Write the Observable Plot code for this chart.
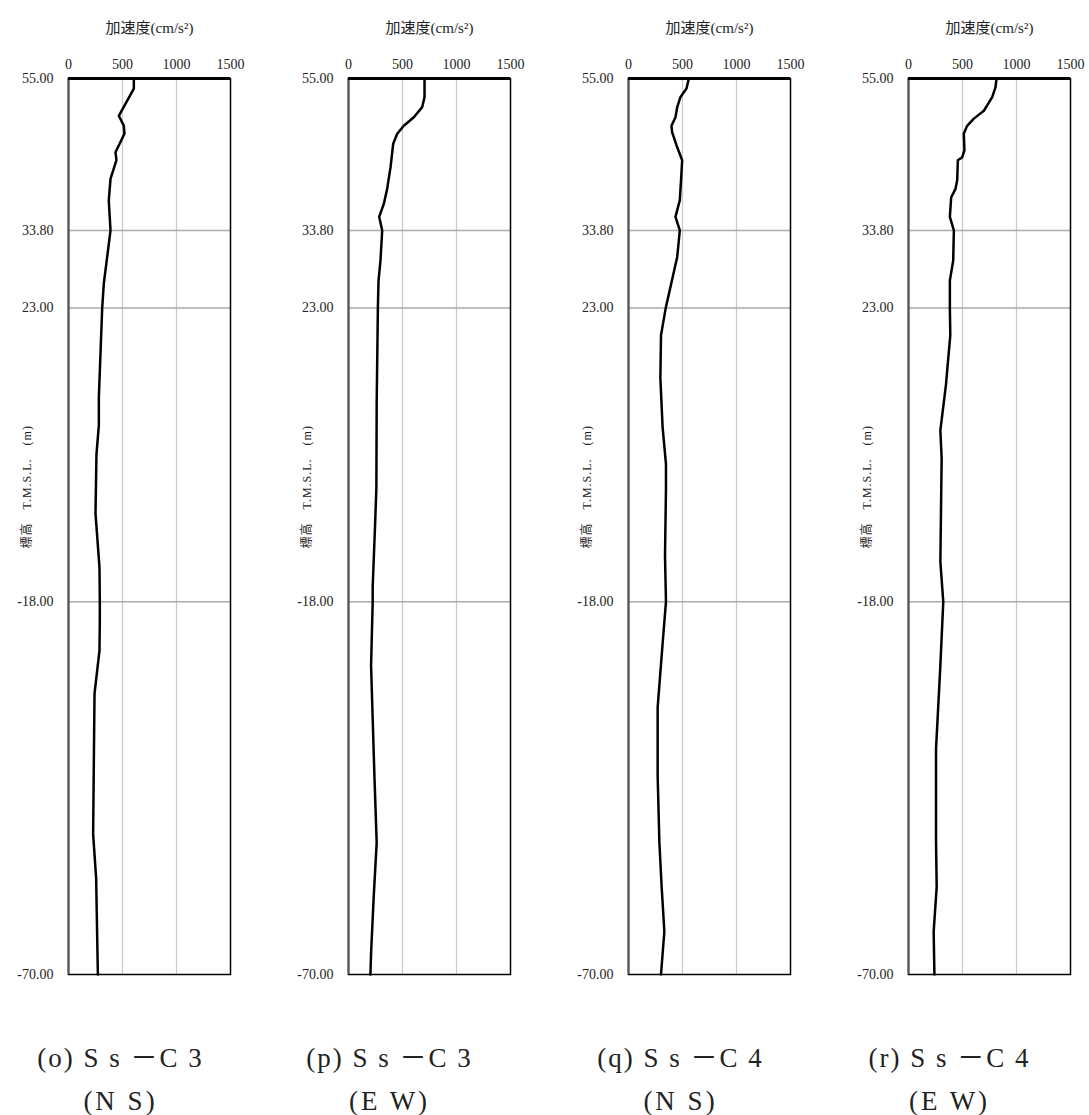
<!DOCTYPE html>
<html><head><meta charset="utf-8">
<script src="https://cdn.jsdelivr.net/npm/d3@7"></script>
<script src="https://cdn.jsdelivr.net/npm/@observablehq/plot@0.6"></script>
<style>
body{margin:0;background:#fff;overflow:hidden}
#wrap{position:relative;width:1089px;height:1115px}
.panel{position:absolute;top:0}
</style></head><body><div id="wrap"></div>
<script>
// ---- data ----
const xTicks = [0, 500, 1000, 1500];
const yTicks = [55, 33.8, 23, -18, -70];
const gridX = [500, 1000];
const gridY = [33.8, 23, -18];
const xLabel = "加速度(cm/s²)";
const yLabel = "標高　T.M.S.L.　(m)";
const captionTop = ["(o) S s －C 3", "(p) S s －C 3", "(q) S s －C 4", "(r) S s －C 4"];
const captionBottom = ["(N S)", "(E W)", "(N S)", "(E W)"];

// [elevation (m), acceleration (cm/s²)]
const ssC3NS = [[55,605],[53.6,605],[49.8,466],[48.4,512],[47.3,518],[44.7,435],[43.6,444],[41.0,389],[38.0,373],[33.8,389],[26.4,327],[23,312],[10.5,281],[6.6,281],[2.6,259],[-5.7,250],[-13.2,287],[-18,290],[-20.6,290],[-24.8,287],[-30.8,241],[-50.4,228],[-56.6,256],[-70,272]];
const ssC3EW = [[55,704],[52.4,704],[51.0,682],[49.6,605],[48.4,512],[47.3,451],[45.9,414],[42.6,389],[39.6,358],[37.5,327],[35.7,284],[33.8,312],[29.6,296],[26.8,278],[23,272],[9.8,261],[-2.2,258],[-7.3,246],[-15.9,224],[-18,224],[-26.9,209],[-42.3,240],[-51.6,261],[-59.3,233],[-67,209],[-70,203]];
const ssC4NS = [[55,559],[53.6,537],[52.4,481],[51.0,451],[49.6,435],[48.4,398],[47.5,404],[45.4,451],[43.6,497],[41.2,488],[38.0,475],[37.5,466],[35.7,435],[33.8,475],[30.1,451],[23,345],[19.2,301],[13.2,295],[6.3,316],[1.2,347],[-2.2,347],[-11.6,338],[-18,347],[-23.8,316],[-32.7,270],[-42.3,270],[-51.6,286],[-57.8,307],[-64,332],[-70,301]];
const ssC4EW = [[55,815],[53.8,806],[52.4,775],[50.5,698],[49.4,605],[48.4,543],[47.3,512],[45.0,518],[44.0,497],[43.6,457],[40.8,451],[39.6,435],[38.4,395],[35.7,383],[33.8,420],[29.6,414],[26.8,383],[23,383],[19.2,387],[12.3,347],[5.9,295],[2.0,307],[-12.4,295],[-18,322],[-26.9,295],[-38.5,255],[-51.6,255],[-57.8,261],[-64,233],[-70,240]];
const series = [ssC3NS, ssC3EW, ssC4NS, ssC4EW];

// ---- layout ----
const FONT = '"Liberation Serif","DejaVu Serif","Noto Sans CJK JP",serif';
const W = 1089, H = 1115, STEP = 280, ML = 68, PW = 162, MT = 78, PB = 974;
const capDx = [-29, -40, -29, -40];
const wrap = document.getElementById("wrap");

series.forEach((data, i) => {
  const left = i * STEP;
  const w = Math.min(STEP, W - left);
  const chart = Plot.plot({
    width: w, height: H,
    marginLeft: ML, marginRight: w - ML - PW, marginTop: MT, marginBottom: H - PB,
    x: {domain: [0, 1500], axis: null},
    y: {domain: [-70, 55], axis: null},
    style: {fontFamily: FONT, background: "transparent", color: "#222", overflow: "visible"},
    marks: [
      Plot.ruleX(gridX, {stroke: "#c8c8c8", strokeWidth: 1.2}),
      Plot.ruleY(gridY, {stroke: "#aaa", strokeWidth: 1.5}),
      Plot.line(data, {x: d => d[1], y: d => d[0], stroke: "#000", strokeWidth: 2.5, strokeLinejoin: "round"}),
      Plot.frame({stroke: "#000", strokeWidth: 1.5}),
      Plot.ruleX([0], {stroke: "#555", strokeWidth: 2}),
      Plot.ruleY([55], {stroke: "#000", strokeWidth: 3}),
      Plot.axisX(xTicks, {anchor: "top", tickSize: 0, tickPadding: 10, fontSize: 14, label: null, fontFamily: FONT, tickFormat: d => String(d)}),
      Plot.axisY(yTicks, {anchor: "left", tickSize: 0, tickPadding: 15, fontSize: 14, label: null, fontFamily: FONT, tickFormat: d => d.toFixed(2)}),
      Plot.text([xLabel], {frameAnchor: "top", dy: -56, fontSize: 15, fill: "#222", fontFamily: FONT}),
      Plot.text([yLabel], {frameAnchor: "left", rotate: -90, dx: -41, dy: 22, fontSize: 12, fill: "#222", fontFamily: FONT}),
      Plot.text([captionTop[i]], {frameAnchor: "bottom", dx: capDx[i], dy: 92, fontSize: 27, fill: "#222", fontFamily: FONT}),
      Plot.text([captionBottom[i]], {frameAnchor: "bottom", dx: capDx[i], dy: 135, fontSize: 27, fill: "#222", fontFamily: FONT})
    ]
  });
  d3.select(chart).selectAll("text").each(function() {
    const t = this.textContent;
    if (captionTop.includes(t)) this.style.letterSpacing = "2px";
    else if (captionBottom.includes(t)) this.style.letterSpacing = "3px";
    else if (t === yLabel) this.style.letterSpacing = "1px";
  });
  chart.classList.add("panel");
  chart.style.left = left + "px";
  wrap.appendChild(chart);
});
</script></body></html>
